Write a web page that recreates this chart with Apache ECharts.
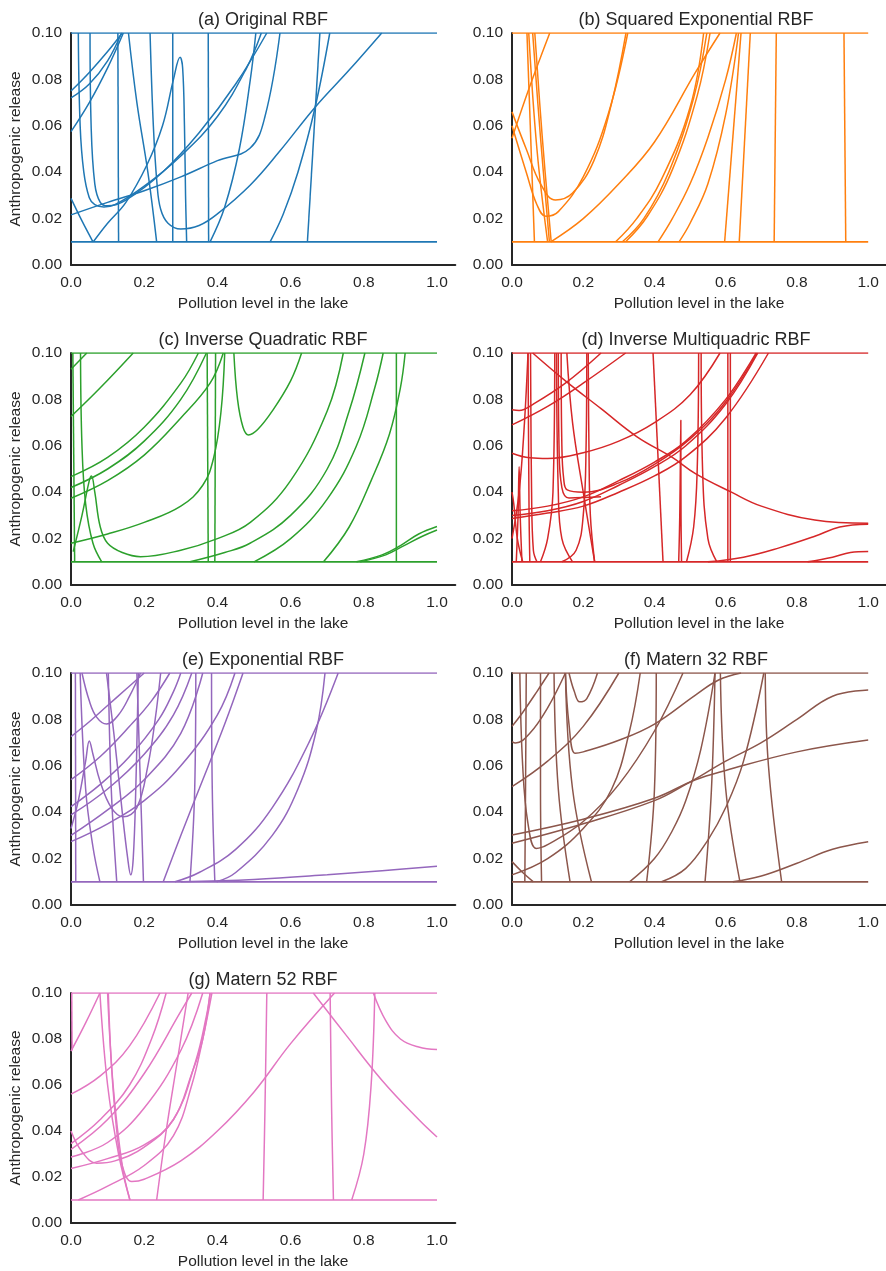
<!DOCTYPE html>
<html><head><meta charset="utf-8">
<script src="https://cdn.jsdelivr.net/npm/echarts@6/dist/echarts.min.js"></script>
<style>html,body{margin:0;padding:0;background:#fff}#c{width:886px;height:1271px}</style>
</head><body><div id="c"></div>
<script>
const titles = ["(a) Original RBF","(b) Squared Exponential RBF","(c) Inverse Quadratic RBF","(d) Inverse Multiquadric RBF","(e) Exponential RBF","(f) Matern 32 RBF","(g) Matern 52 RBF"];
const colors = ["#1f77b4","#ff7f0e","#2ca02c","#d62728","#9467bd","#8c564b","#e377c2"];
const xTickValues = [0.0,0.2,0.4,0.6,0.8,1.0];
const yTickValues = [0.00,0.02,0.04,0.06,0.08,0.10];
const boundLow = 0.01, boundHigh = 0.1;
const xLabel = "Pollution level in the lake";
const yLabel = "Anthropogenic release";

const curvesA = [
 [[0,0.075],[0.05,0.083],[0.1,0.092],[0.14,0.1]],
 [[0,0.072],[0.05,0.078],[0.1,0.088],[0.138,0.1]],
 [[0,0.0575],[0.05,0.07],[0.1,0.085],[0.143,0.1]],
 [[0.02,0.1],[0.025,0.06],[0.035,0.04],[0.05,0.029],[0.065,0.026],[0.09,0.025],[0.12,0.026],[0.2,0.034],[0.3,0.047],[0.4,0.064],[0.48,0.085],[0.52,0.1]],
 [[0.052,0.1],[0.055,0.06],[0.065,0.035],[0.08,0.027],[0.1,0.0255],[0.15,0.028],[0.25,0.04],[0.35,0.057],[0.45,0.078],[0.535,0.1]],
 [[0,0.0287],[0.03,0.019],[0.06,0.01]],
 [[0.216,0.1],[0.225,0.06],[0.235,0.035],[0.245,0.024],[0.265,0.018],[0.3,0.0155],[0.35,0.017],[0.4,0.022],[0.49,0.0345],[0.57,0.049],[0.667,0.068],[0.76,0.084],[0.849,0.1]],
 [[0,0.0216],[0.1,0.027],[0.2,0.032],[0.3,0.038],[0.4,0.045],[0.489,0.0503],[0.53,0.064],[0.571,0.1]],
 [[0.061,0.01],[0.1,0.018],[0.15,0.027],[0.207,0.043],[0.25,0.06],[0.28,0.08],[0.298,0.0895],[0.305,0.085],[0.31,0.06],[0.313,0.03],[0.316,0.01]],
 [[0.128,0.1],[0.13,0.01]],
 [[0.157,0.1],[0.18,0.07],[0.21,0.04],[0.234,0.01]],
 [[0.278,0.1],[0.278,0.01]],
 [[0.375,0.1],[0.376,0.01]],
 [[0.38,0.01],[0.42,0.025],[0.46,0.05],[0.49,0.08],[0.505,0.1]],
 [[0.544,0.01],[0.58,0.022],[0.62,0.04],[0.667,0.068],[0.707,0.1]],
 [[0.68,0.1],[0.646,0.01]]
];
const curvesB = [
 [[0.042,0.1],[0.063,0.01]],
 [[0.047,0.1],[0.07,0.05],[0.1,0.01]],
 [[0.058,0.1],[0.08,0.055],[0.105,0.01]],
 [[0.064,0.1],[0.085,0.055],[0.11,0.01]],
 [[0,0.0546],[0.05,0.077],[0.106,0.1]],
 [[0,0.066],[0.04,0.05],[0.08,0.035],[0.122,0.028],[0.17,0.031],[0.23,0.045],[0.28,0.07],[0.32,0.1]],
 [[0,0.06],[0.04,0.04],[0.07,0.026],[0.095,0.021],[0.13,0.023],[0.2,0.038],[0.27,0.065],[0.325,0.1]],
 [[0.109,0.01],[0.2,0.02],[0.3,0.035],[0.4,0.053],[0.515,0.083],[0.584,0.1]],
 [[0.291,0.01],[0.35,0.02],[0.42,0.037],[0.5,0.068],[0.538,0.1]],
 [[0.31,0.01],[0.37,0.02],[0.44,0.04],[0.51,0.072],[0.547,0.1]],
 [[0.319,0.01],[0.38,0.021],[0.45,0.041],[0.52,0.073],[0.556,0.1]],
 [[0.41,0.01],[0.45,0.02],[0.5,0.035],[0.55,0.055],[0.6,0.08],[0.63,0.1]],
 [[0.469,0.01],[0.5,0.018],[0.55,0.035],[0.6,0.065],[0.636,0.1]],
 [[0.643,0.1],[0.597,0.01]],
 [[0.669,0.1],[0.638,0.01]],
 [[0.742,0.1],[0.736,0.01]],
 [[0.932,0.1],[0.937,0.01]]
];
const curvesC = [
 [[0.005,0.1],[0.01,0.01]],
 [[0.026,0.1],[0.03,0.06],[0.04,0.035],[0.06,0.018],[0.084,0.01]],
 [[0.006,0.0144],[0.03,0.03],[0.05,0.045],[0.056,0.047],[0.065,0.04],[0.08,0.025],[0.1,0.018],[0.14,0.014],[0.19,0.0122],[0.3,0.015],[0.4,0.02],[0.49,0.027],[0.6,0.045],[0.7,0.075],[0.744,0.1]],
 [[0,0.018],[0.1,0.022],[0.2,0.027],[0.3,0.034],[0.36,0.043],[0.39,0.055],[0.41,0.075],[0.42,0.1]],
 [[0,0.0467],[0.1,0.055],[0.2,0.068],[0.3,0.087],[0.348,0.1]],
 [[0,0.042],[0.1,0.05],[0.2,0.062],[0.3,0.08],[0.37,0.1]],
 [[0,0.0374],[0.1,0.045],[0.2,0.056],[0.3,0.072],[0.38,0.087],[0.416,0.1]],
 [[0,0.0726],[0.08,0.085],[0.17,0.1]],
 [[0,0.093],[0.043,0.1]],
 [[0.445,0.1],[0.455,0.08],[0.47,0.068],[0.485,0.0647],[0.51,0.067],[0.55,0.075],[0.6,0.088],[0.63,0.1]],
 [[0.372,0.1],[0.375,0.01]],
 [[0.395,0.1],[0.393,0.01]],
 [[0.325,0.01],[0.42,0.014],[0.489,0.018],[0.6,0.03],[0.7,0.05],[0.76,0.075],[0.803,0.1]],
 [[0.5,0.01],[0.6,0.02],[0.7,0.037],[0.78,0.06],[0.83,0.085],[0.853,0.1]],
 [[0.69,0.01],[0.76,0.025],[0.82,0.045],[0.87,0.065],[0.9,0.085],[0.913,0.1]],
 [[0.889,0.1],[0.889,0.01]],
 [[0.78,0.01],[0.85,0.013],[0.9,0.017],[0.95,0.022],[1.0,0.0252]],
 [[0.79,0.01],[0.86,0.013],[0.91,0.017],[0.96,0.021],[1.0,0.0237]]
];
const curvesD = [
 [[0,0.0755],[0.02,0.0752],[0.06,0.078],[0.15,0.087],[0.25,0.1]],
 [[0,0.069],[0.1,0.077],[0.2,0.087],[0.319,0.1]],
 [[0,0.0568],[0.05,0.0548],[0.1,0.0545],[0.2,0.057],[0.3,0.062],[0.4,0.07],[0.5,0.082],[0.584,0.1]],
 [[0.058,0.1],[0.15,0.088],[0.25,0.076],[0.35,0.064],[0.45,0.055],[0.515,0.048],[0.616,0.04],[0.7,0.034],[0.85,0.028],[1.0,0.0266]],
 [[0,0.032],[0.1,0.034],[0.2,0.038],[0.3,0.045],[0.4,0.053],[0.488,0.062],[0.6,0.08],[0.685,0.1]],
 [[0,0.03],[0.1,0.032],[0.2,0.036],[0.3,0.043],[0.4,0.051],[0.488,0.06],[0.6,0.078],[0.69,0.1]],
 [[0,0.0287],[0.1,0.031],[0.2,0.034],[0.3,0.04],[0.4,0.047],[0.488,0.0553],[0.6,0.072],[0.72,0.1]],
 [[0.138,0.1],[0.14,0.06],[0.145,0.046],[0.155,0.041],[0.2,0.04],[0.3,0.044],[0.4,0.052],[0.5,0.063],[0.6,0.079],[0.688,0.1]],
 [[0.13,0.1],[0.132,0.06],[0.14,0.042],[0.16,0.0375],[0.25,0.038]],
 [[0.012,0.01],[0.017,0.03],[0.02,0.051],[0.023,0.03],[0.028,0.01]],
 [[0,0.04],[0.005,0.035],[0.015,0.02],[0.03,0.01]],
 [[0.468,0.01],[0.471,0.03],[0.474,0.071],[0.4745,0.03],[0.476,0.01]],
 [[0.045,0.1],[0.048,0.03],[0.05,0.01]],
 [[0.052,0.1],[0.055,0.04],[0.06,0.015],[0.07,0.01]],
 [[0.08,0.01],[0.1,0.02],[0.115,0.04],[0.12,0.1]],
 [[0.125,0.1],[0.13,0.04],[0.14,0.02],[0.17,0.01]],
 [[0.154,0.1],[0.17,0.07],[0.2,0.04],[0.232,0.01]],
 [[0.14,0.01],[0.18,0.015],[0.2,0.03],[0.208,0.06],[0.21,0.1]],
 [[0.214,0.1],[0.216,0.06],[0.22,0.03],[0.232,0.01]],
 [[0.396,0.1],[0.424,0.01]],
 [[0.524,0.1],[0.52,0.05],[0.51,0.025],[0.49,0.01]],
 [[0.531,0.1],[0.535,0.05],[0.55,0.02],[0.575,0.01]],
 [[0.606,0.1],[0.606,0.01]],
 [[0.613,0.1],[0.613,0.01]],
 [[0.55,0.01],[0.65,0.012],[0.75,0.016],[0.85,0.021],[0.92,0.025],[1.0,0.0262]],
 [[0.83,0.01],[0.9,0.012],[0.95,0.014],[1.0,0.0144]],
 [[0,0.02],[0.02,0.04],[0.035,0.07],[0.045,0.1]]
];
const curvesE = [
 [[0,0.0726],[0.05,0.079],[0.1,0.086],[0.15,0.093],[0.2,0.1]],
 [[0,0.054],[0.08,0.064],[0.16,0.077],[0.22,0.088],[0.27,0.1]],
 [[0,0.0424],[0.08,0.052],[0.16,0.064],[0.24,0.08],[0.28,0.092],[0.3,0.1]],
 [[0,0.0388],[0.1,0.05],[0.2,0.065],[0.28,0.082],[0.33,0.1]],
 [[0,0.03],[0.1,0.041],[0.2,0.054],[0.3,0.074],[0.36,0.1]],
 [[0,0.0273],[0.1,0.035],[0.2,0.045],[0.3,0.06],[0.4,0.082],[0.448,0.1]],
 [[0,0.033],[0.02,0.045],[0.04,0.062],[0.05,0.0707],[0.06,0.065],[0.08,0.053],[0.11,0.042],[0.143,0.038],[0.18,0.042],[0.21,0.06],[0.23,0.08],[0.245,0.1]],
 [[0.03,0.1],[0.05,0.088],[0.07,0.081],[0.097,0.078],[0.13,0.082],[0.16,0.09],[0.19,0.1]],
 [[0.097,0.1],[0.12,0.07],[0.14,0.04],[0.155,0.02],[0.163,0.013],[0.17,0.02],[0.177,0.05],[0.184,0.1]],
 [[0.012,0.1],[0.013,0.01]],
 [[0.18,0.1],[0.19,0.05],[0.198,0.01]],
 [[0.102,0.1],[0.11,0.05],[0.125,0.01]],
 [[0.025,0.1],[0.04,0.05],[0.06,0.025],[0.079,0.01]],
 [[0.341,0.1],[0.338,0.05],[0.325,0.01]],
 [[0.384,0.1],[0.386,0.05],[0.393,0.01]],
 [[0.252,0.01],[0.3,0.03],[0.35,0.05],[0.42,0.078],[0.47,0.1]],
 [[0.284,0.01],[0.35,0.014],[0.45,0.024],[0.55,0.042],[0.65,0.07],[0.73,0.1]],
 [[0.398,0.01],[0.45,0.014],[0.55,0.03],[0.62,0.05],[0.67,0.075],[0.694,0.1]],
 [[0.3,0.01],[0.5,0.011],[0.7,0.013],[0.85,0.0148],[1.0,0.0167]]
];
const curvesF = [
 [[0,0.077],[0.03,0.083],[0.07,0.092],[0.104,0.1]],
 [[0,0.0704],[0.01,0.0698],[0.05,0.074],[0.1,0.085],[0.15,0.1]],
 [[0.15,0.1],[0.16,0.078],[0.177,0.0654],[0.2,0.066],[0.3,0.071],[0.4,0.078],[0.515,0.0905],[0.58,0.097],[0.643,0.1]],
 [[0.16,0.1],[0.175,0.092],[0.19,0.0876],[0.21,0.089],[0.24,0.1]],
 [[0,0.0302],[0.2,0.037],[0.4,0.046],[0.515,0.054],[0.6,0.058],[0.8,0.066],[1.0,0.0711]],
 [[0,0.0266],[0.2,0.035],[0.4,0.045],[0.488,0.052],[0.6,0.062],[0.7,0.07],[0.8,0.08],[0.9,0.09],[1.0,0.0927]],
 [[0,0.013],[0.1,0.02],[0.2,0.033],[0.28,0.05],[0.33,0.075],[0.36,0.1]],
 [[0,0.0187],[0.03,0.014],[0.06,0.01]],
 [[0.022,0.1],[0.03,0.06],[0.045,0.035],[0.068,0.0244],[0.1,0.026],[0.2,0.036],[0.3,0.052],[0.4,0.075],[0.48,0.1]],
 [[0.42,0.01],[0.488,0.0158],[0.55,0.028],[0.6,0.042],[0.65,0.062],[0.707,0.1]],
 [[0.62,0.01],[0.7,0.0125],[0.8,0.018],[0.9,0.024],[1.0,0.0273]],
 [[0.33,0.01],[0.4,0.02],[0.45,0.032],[0.488,0.045],[0.53,0.067],[0.57,0.1]],
 [[0.57,0.1],[0.56,0.05],[0.542,0.01]],
 [[0.585,0.1],[0.6,0.05],[0.64,0.01]],
 [[0.711,0.1],[0.72,0.06],[0.757,0.01]],
 [[0.04,0.1],[0.038,0.05],[0.036,0.01]],
 [[0.08,0.1],[0.08,0.05],[0.083,0.01]],
 [[0.118,0.1],[0.13,0.05],[0.163,0.01]],
 [[0.15,0.1],[0.17,0.05],[0.223,0.01]],
 [[0.405,0.1],[0.4,0.05],[0.378,0.01]],
 [[0,0.051],[0.1,0.062],[0.2,0.077],[0.3,0.1]]
];
const curvesG = [
 [[0,0.0747],[0.04,0.087],[0.079,0.1]],
 [[0,0.056],[0.08,0.064],[0.16,0.077],[0.243,0.1]],
 [[0,0.04],[0.03,0.031],[0.07,0.026],[0.12,0.027],[0.2,0.033],[0.28,0.045],[0.33,0.065],[0.36,0.08],[0.38,0.1]],
 [[0.102,0.1],[0.11,0.07],[0.125,0.04],[0.14,0.025],[0.166,0.018],[0.2,0.019],[0.3,0.027],[0.4,0.04],[0.5,0.057],[0.6,0.078],[0.72,0.1]],
 [[0.02,0.01],[0.1,0.016],[0.2,0.025],[0.28,0.038],[0.33,0.06],[0.36,0.08],[0.385,0.1]],
 [[0.079,0.1],[0.1,0.06],[0.13,0.03],[0.161,0.01]],
 [[0.1,0.1],[0.115,0.06],[0.14,0.025],[0.161,0.01]],
 [[0.234,0.01],[0.26,0.04],[0.29,0.07],[0.32,0.1]],
 [[0.535,0.1],[0.53,0.05],[0.525,0.01]],
 [[0.708,0.1],[0.712,0.05],[0.717,0.01]],
 [[0.83,0.1],[0.82,0.06],[0.8,0.03],[0.767,0.01]],
 [[0.662,0.1],[0.75,0.082],[0.85,0.062],[0.95,0.045],[1.0,0.0374]],
 [[0.826,0.1],[0.86,0.088],[0.9,0.08],[0.95,0.0765],[1.0,0.0754]],
 [[0,0.0345],[0.08,0.045],[0.16,0.06],[0.22,0.08],[0.26,0.1]],
 [[0,0.032],[0.1,0.045],[0.2,0.065],[0.3,0.092],[0.33,0.1]],
 [[0,0.0287],[0.1,0.035],[0.2,0.05],[0.3,0.075],[0.36,0.1]],
 [[0,0.0237],[0.1,0.028],[0.2,0.034],[0.28,0.045],[0.34,0.07],[0.37,0.09],[0.38,0.1]],
 [[0.002,0.1],[0.003,0.075]]
];
const allCurves = [curvesA,curvesB,curvesC,curvesD,curvesE,curvesF,curvesG];

const chart = echarts.init(document.getElementById('c'), null, {renderer:'canvas'});
const grids=[], xAxes=[], yAxes=[], series=[], titleOpts=[];
const txt = '#262626';
const ff = 'Liberation Sans, Arial, sans-serif';
allCurves.forEach((curves,i)=>{
  const col = i%2, row = Math.floor(i/2);
  const left = col===0 ? 71 : 512;
  const unit = col===0 ? 366 : 365;
  const top = 33 + 320*row;
  grids.push({left:left, top:top, width:unit*1.05, height:232, containLabel:false});
  titleOpts.push({text:titles[i], left:(col===0?258:691), top:top-27, textAlign:'center',
    textStyle:{fontSize:18, fontWeight:'normal', color:txt, fontFamily:ff}});
  xAxes.push({type:'value', gridIndex:i, min:0, max:1.05, interval:0.2,
    axisLine:{show:true, onZero:false, lineStyle:{color:'#262626', width:2}},
    axisTick:{show:false}, splitLine:{show:false},
    axisLabel:{color:txt, fontSize:15.5, margin:10, fontFamily:ff, showMaxLabel:false,
      formatter:v=> (xTickValues.some(t=>Math.abs(t-v)<1e-6) ? v.toFixed(1) : '')},
    name:xLabel, nameLocation:'middle', nameGap:31,
    nameTextStyle:{color:txt, fontSize:15.5, fontFamily:ff}});
  yAxes.push({type:'value', gridIndex:i, min:0, max:0.1, interval:0.02,
    axisLine:{show:true, onZero:false, lineStyle:{color:'#262626', width:2}},
    axisTick:{show:false}, splitLine:{show:false},
    axisLabel:{color:txt, fontSize:15.5, margin:9, fontFamily:ff,
      formatter:v=> (yTickValues.some(t=>Math.abs(t-v)<1e-9) ? v.toFixed(2) : '')},
    name: col===0 ? yLabel : '', nameLocation:'middle', nameGap:47,
    nameTextStyle:{color:txt, fontSize:15.5, fontFamily:ff}});
  const ls = {width:1.5, color:colors[i]};
  [boundLow,boundHigh].forEach(b=>{
    series.push({type:'line', xAxisIndex:i, yAxisIndex:i, data:[[0,b],[1,b]], showSymbol:false, lineStyle:{width:1.7,color:colors[i]}, silent:true, clip:true});
  });
  curves.forEach(c=>{
    series.push({type:'line', xAxisIndex:i, yAxisIndex:i, data:c, showSymbol:false,
      smooth:0.4, lineStyle:ls, silent:true, clip:true});
  });
});
chart.setOption({animation:false, backgroundColor:'#fff', title:titleOpts, grid:grids, xAxis:xAxes, yAxis:yAxes, series:series});
</script></body></html>
